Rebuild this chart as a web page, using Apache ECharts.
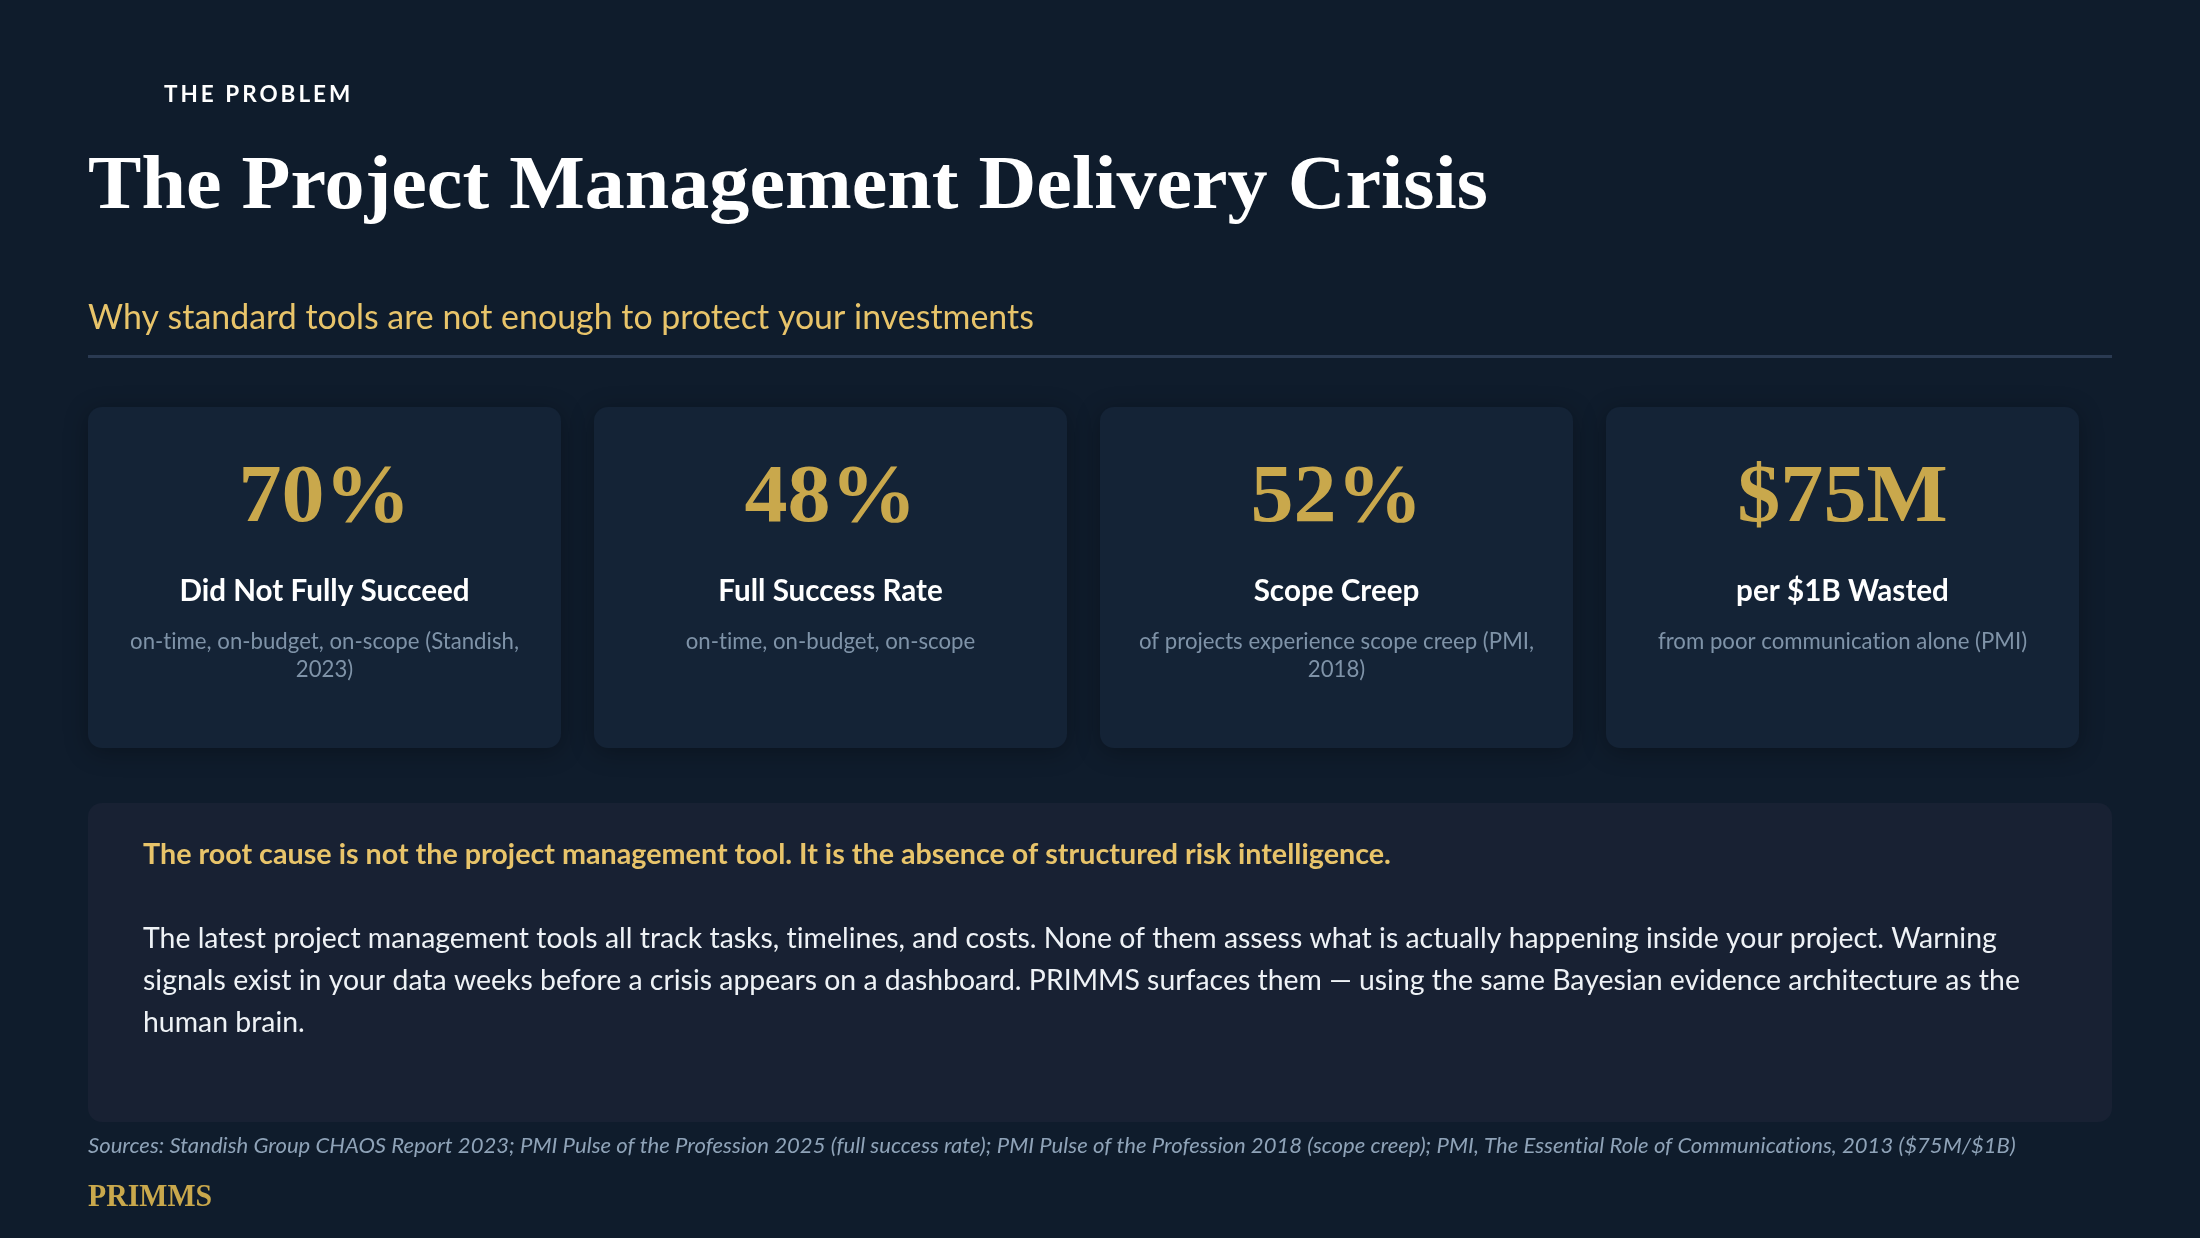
<!DOCTYPE html>
<html><head><meta charset="utf-8">
<style>html,body{margin:0;padding:0;background:#0f1c2c}#c{width:2200px;height:1238px}</style>
<script src="https://cdn.jsdelivr.net/npm/echarts@6/dist/echarts.min.js"></script>
</head><body><div id="c"></div>
<script>
const kicker = 'THE PROBLEM';
const title = 'The Project Management Delivery Crisis';
const subtitle = 'Why standard tools are not enough to protect your investments';
const statValues = ['70%', '48%', '52%', '$75M'];
const statLabels = ['Did Not Fully Succeed', 'Full Success Rate', 'Scope Creep', 'per $1B Wasted'];
const statNotes = [
  ['on-time, on-budget, on-scope (Standish,', '2023)'],
  ['on-time, on-budget, on-scope'],
  ['of projects experience scope creep (PMI,', '2018)'],
  ['from poor communication alone (PMI)']
];
const rootCause = 'The root cause is not the project management tool. It is the absence of structured risk intelligence.';
const bodyLines = [
  'The latest project management tools all track tasks, timelines, and costs. None of them assess what is actually happening inside your project. Warning',
  'signals exist in your data weeks before a crisis appears on a dashboard. PRIMMS surfaces them — using the same Bayesian evidence architecture as the',
  'human brain.'
];
const sources = 'Sources: Standish Group CHAOS Report 2023; PMI Pulse of the Profession 2025 (full success rate); PMI Pulse of the Profession 2018 (scope creep); PMI, The Essential Role of Communications, 2013 ($75M/$1B)';
const brand = 'PRIMMS';

const SANS = 'Lato', SERIF = '"Liberation Serif"';
const _ft = CanvasRenderingContext2D.prototype.fillText;
CanvasRenderingContext2D.prototype.fillText = function (t, x, y, m) {
  this.letterSpacing = t === kicker ? '3px' : '0.01px';
  return m === undefined ? _ft.call(this, t, x, y) : _ft.call(this, t, x, y, m);
};
function txt(s, x, y, size, color, o) {
  o = o || {};
  return { type: 'text', x, y, z: 10, scaleX: o.sx || 1, style: {
    text: s, x: 0, y: 0, fill: color, align: o.align || 'left', verticalAlign: 'middle',
    font: (o.style || '') + ' ' + (o.weight || 'normal') + ' ' + size + 'px ' + (o.family || SANS)
  } };
}
const els = [];
els.push(txt(kicker, 164, 95, 22.5, '#ffffff', { weight: 'bold' }));
els.push(txt(title, 88, 188, 77, '#ffffff', { weight: 'bold', family: SERIF, sx: 1.04 }));
els.push(txt(subtitle, 88, 318, 33.9, '#e8c46a'));
els.push({ type: 'rect', shape: { x: 88, y: 355, width: 2024, height: 3 }, style: { fill: '#2a3a52' } });
const cardX = [88, 594, 1100, 1606];
statValues.forEach((v, i) => {
  const x = cardX[i], cx = x + 236.5;
  els.push({ type: 'rect', shape: { x, y: 407, width: 473, height: 341, r: 14 },
    style: { fill: '#142336', shadowBlur: 24, shadowColor: 'rgba(0,0,0,0.3)', shadowOffsetY: 4 } });
  els.push(txt(v, cx, 500, 82, '#c9a84c', { weight: 'bold', family: SERIF, align: 'center', sx: 1.05 }));
  els.push(txt(statLabels[i], cx, 591, 29.6, '#ffffff', { weight: 'bold', align: 'center' }));
  statNotes[i].forEach((l, j) => els.push(txt(l, cx, 642 + j * 28, 22.2, '#7f93a8', { align: 'center' })));
});
els.push({ type: 'rect', shape: { x: 88, y: 803, width: 2024, height: 319, r: 14 }, style: { fill: '#182133' } });
els.push(txt(rootCause, 143, 855, 28.7, '#e8c46a', { weight: 'bold' }));
bodyLines.forEach((l, j) => els.push(txt(l, 143, 939 + j * 42, 28.4, '#eef2f6')));
els.push(txt(sources, 88, 1146, 22.1, '#8fa3b8', { style: 'italic' }));
els.push(txt(brand, 88, 1198, 32, '#c9a84c', { weight: 'bold', family: SERIF, sx: 0.93 }));

const chart = echarts.init(document.getElementById('c'), null, { renderer: 'canvas', width: 2200, height: 1238 });
chart.setOption({ backgroundColor: '#0f1c2c', animation: false, graphic: { elements: els } });
</script></body></html>
